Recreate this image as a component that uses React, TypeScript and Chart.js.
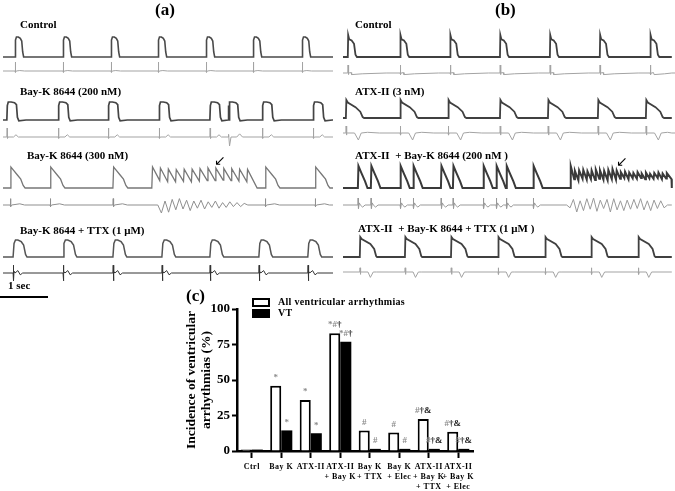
import React, { useEffect, useRef } from "react";
import { Chart, registerables } from "chart.js";
Chart.register(...registerables);

const SERIF = "'Liberation Serif', 'Times New Roman', serif";

// ---------------- (c) bar chart data ----------------
const groupLabels = [
  ["Ctrl"],
  ["Bay K"],
  ["ATX-II"],
  ["ATX-II", "+ Bay K"],
  ["Bay K", "+ TTX"],
  ["Bay K", "+ Elec"],
  ["ATX-II", "+ Bay K", "+ TTX"],
  ["ATX-II", "+ Bay K", "+ Elec"],
];
const allArrhythmias = [1, 46, 36, 83, 14.5, 13, 22.5, 13.5];
const vtIncidence = [1, 14.5, 12.5, 77, 1.5, 1.5, 1.5, 1.5];
const allMarks = ["", "*", "*", "*#†", "#", "#", "#†&", "#†&"];
const vtMarks = ["", "*", "*", "*#†", "#", "#", "#†&", "#†&"];
const yTickValues = [0, 25, 50, 75, 100];
const seriesNames = ["All ventricular arrhythmias", "VT"];
const yTitle = ["Incidence of ventricular", "arrhythmias (%)"];

// ---------------- trace data (times in s, amplitudes normalised) ----------------
// beat templates: [time offset (s), normalised value]
const apCtrlA = [[0, 0], [0.01, 0.85], [0.03, 1.0], [0.07, 1.0], [0.11, 0.93], [0.14, 0.8], [0.16, 0.25], [0.18, 0]];
const apBay200 = [[0, 0], [0.01, 0.8], [0.03, 1.0], [0.09, 1.0], [0.16, 0.96], [0.2, 0.85], [0.22, 0.15], [0.25, -0.05], [0.4, 0]];
const apBay300 = [[0, 0], [0.015, 1.0], [0.05, 0.9], [0.15, 0.62], [0.22, 0.42], [0.27, 0.12], [0.31, 0]];
const apBayTtx = [[0, 0], [0.02, 0.8], [0.05, 1.0], [0.1, 1.0], [0.17, 0.9], [0.22, 0.7], [0.26, 0.15], [0.29, 0]];
const ecgCtrlA = [[0, 0], [0.006, 1], [0.014, -0.15], [0.025, 0], [0.1, 0.05], [0.2, 0]];
const ecgBay200 = [[0, 0], [0.006, 1], [0.014, -0.15], [0.025, 0], [0.14, 0], [0.19, 0.25], [0.24, 0]];
const ecgPvc = [[0, 0], [0.01, 0.3], [0.03, -1.0], [0.06, 0], [0.18, 0], [0.24, 0.35], [0.3, 0]];
const ecgBay300 = [[0, 0], [0.006, 0.8], [0.014, -0.2], [0.03, 0], [0.2, 0.15], [0.3, 0]];
const ecgBayTtx = [[0, 0], [0.006, 1.3], [0.012, -1.3], [0.02, 0.3], [0.04, 0], [0.1, 0.4], [0.15, -0.3], [0.2, 0]];

const apCtrlB = [[0, 0], [0.008, 1], [0.03, 0.8], [0.08, 0.75], [0.13, 0.6], [0.16, 0.1], [0.19, 0]];
const ecgCtrlB = [[0, 0], [0.005, 1], [0.012, -0.2], [0.02, 0], [0.07, 0.05], [0.08, -0.2], [0.3, -0.1], [0.8, 0]];
const apAtx = [[0, 0], [0.01, 1], [0.04, 0.86], [0.2, 0.6], [0.3, 0.35], [0.35, 0.05], [0.38, 0]];
const ecgAtx = [[0, 0], [0.005, 1], [0.012, -0.3], [0.02, 0], [0.18, 0], [0.26, -1.0], [0.32, 0], [0.45, 0.1], [0.7, 0]];
const apEad = [[0, 0], [0.012, 1], [0.07, 0.7], [0.15, 0.3], [0.2, 0]];
const ecgEad = [[0, 0], [0.005, 1], [0.012, -0.5], [0.03, 0.3], [0.05, 0], [0.1, -0.3], [0.15, 0]];
const apAtxTtx = [[0, 0], [0.01, 1], [0.04, 0.9], [0.22, 0.65], [0.3, 0.4], [0.34, 0.05], [0.36, 0]];
const ecgAtxTtx = [[0, 0], [0.005, 0.7], [0.012, -0.4], [0.02, 0], [0.17, 0], [0.22, -0.9], [0.28, 0], [0.35, 0]];

// beat onsets (s)
const ctrlAOnsets = [0.25, 1.25, 2.25, 3.23, 4.23, 5.21, 6.23];
const bay200Onsets = [0.08, 1.15, 2.19, 3.25, 4.31, 4.69, 5.4, 6.46];
const bay200Kinds = ["n", "n", "n", "n", "n", "p", "n", "n"];
const bay300Onsets = [0.15, 0.98, 2.29, 5.46, 6.5];
const bay300VtStart = 3.1;
const bay300VtStep = 0.165;
const bay300VtPeaks = [1.0, 0.95, 0.9, 0.88, 0.9, 0.9, 0.92, 0.95, 0.95, 0.93, 0.92, 0.9, 0.88];
const bay300VtTroughs = [0.35, 0.3, 0.3, 0.32, 0.3, 0.33, 0.35, 0.35, 0.38, 0.35, 0.33, 0.3, 0.0];
const bay300EcgVtStart = 3.3;
const bay300EcgVtStep = 0.075;
const bay300EcgVt = [-1.0, 0.5, -0.9, 0.7, -0.6, 0.8, -0.5, 0.6, -0.7, 0.5, -0.4, 0.6, -0.5, 0.4, -0.3, 0.5, -0.4, 0.3, -0.3, 0.4, -0.2, 0.3, -0.2, 0.2];
const bayTtxOnsets = [0.21, 1.25, 2.29, 3.31, 4.31, 5.33, 6.35];

const ctrlBOnsets = [0.1, 1.19, 2.23, 3.27, 4.31, 5.35, 6.4];
const atxOnsets = [0.06, 1.19, 2.19, 3.27, 4.27, 5.31, 6.31];
const atxBayOnsets = [0.31, 0.58, 1.19, 1.46, 2.04, 2.29, 2.92, 3.19, 3.4, 3.96];
const atxBayVtStart = 4.73;
const atxBayVtStep = 0.087;
const atxBayVtPeaks = [1.0, 0.78, 0.8, 0.82, 0.76, 0.8, 0.84, 0.8, 0.78, 0.82, 0.86, 0.8, 0.72, 0.74, 0.7, 0.68, 0.72, 0.66, 0.7, 0.64, 0.68, 0.7, 0.66, 0.68];
const atxBayVtTroughs = [0.4, 0.35, 0.42, 0.38, 0.4, 0.36, 0.42, 0.38, 0.35, 0.4, 0.38, 0.42, 0.45, 0.4, 0.44, 0.42, 0.45, 0.4, 0.44, 0.42, 0.45, 0.4, 0.43, 0.4];
const atxBayEcgVtStart = 4.73;
const atxBayEcgVtStep = 0.07;
const atxBayEcgVt = [-0.4, 0.8, -1.0, 0.6, -0.8, 0.9, -0.6, 1.0, -0.9, 0.7, -0.5, 0.8, -1.0, 0.9, -0.7, 0.6, -0.8, 0.7, -0.6, 0.8, -0.5, 0.9, -0.7, 0.6, -0.8, 0.7, -0.5, 0.6, -0.4];
const atxTtxOnsets = [0.35, 1.29, 2.25, 3.23, 4.21, 5.17, 6.15];

const traceEndA = 6.875;
const traceEndB = 6.85;
const scaleBarSeconds = 1;

// ---------------- builders ----------------
type Raw = [number, number];
function fromBeats(onsets: number[], shapeFor: (i: number) => number[][]): Raw[] {
  const out: Raw[] = [];
  onsets.forEach((t, i) => shapeFor(i).forEach(([dt, v]) => out.push([t + dt, v])));
  return out;
}
function fromVt(start: number, step: number, peaks: number[], troughs: number[]): Raw[] {
  const out: Raw[] = [[start, 0]];
  peaks.forEach((p, i) => {
    const t = start + i * step;
    out.push([t + 0.015, p]);
    const last = i === peaks.length - 1;
    out.push([t + step * (last ? 1.3 : 1), troughs[i]]);
  });
  return out;
}
function fromSeries(start: number, step: number, vals: number[]): Raw[] {
  const out: Raw[] = [[start - step, 0]];
  vals.forEach((v, i) => out.push([start + i * step, v]));
  out.push([start + vals.length * step, 0]);
  return out;
}
function toTrace(raw: Raw[], base: number, amp: number, end: number) {
  const all: Raw[] = [[0, 0], ...raw, [end, 0]].sort((a, b) => a[0] - b[0]) as Raw[];
  return all.map(([t, v]) => ({ x: t, y: base - amp * v }));
}

function ds(data: any[], color: string, width: number) {
  return { data, borderColor: color, borderWidth: width, pointRadius: 0, tension: 0, fill: false };
}

const colADatasets = () => [
  ds(toTrace(fromBeats(ctrlAOnsets, () => apCtrlA), 57, 20, traceEndA), "#4a4a4a", 1.6),
  ds(toTrace(fromBeats(ctrlAOnsets, () => ecgCtrlA), 71, 9, traceEndA), "#a3a3a3", 1),
  ds(toTrace(fromBeats(bay200Onsets, () => apBay200), 120, 18, traceEndA), "#444", 1.7),
  ds(toTrace(fromBeats(bay200Onsets, (i) => (bay200Kinds[i] === "p" ? ecgPvc : ecgBay200)), 137, 9, traceEndA), "#a3a3a3", 1),
  ds(toTrace([...fromBeats(bay300Onsets, () => apBay300), ...fromVt(bay300VtStart, bay300VtStep, bay300VtPeaks, bay300VtTroughs)], 188, 21, traceEndA), "#777", 1.3),
  ds(toTrace([...fromBeats(bay300Onsets, () => ecgBay300), ...fromSeries(bay300EcgVtStart, bay300EcgVtStep, bay300EcgVt)], 205, 8, traceEndA), "#8f8f8f", 1),
  ds(toTrace(fromBeats(bayTtxOnsets, () => apBayTtx), 257, 17, traceEndA), "#555", 1.5),
  ds(toTrace(fromBeats(bayTtxOnsets, () => ecgBayTtx), 273, 6, traceEndA), "#333", 1),
];

const colBDatasets = () => [
  ds(toTrace(fromBeats(ctrlBOnsets, () => apCtrlB), 57, 22, traceEndB), "#404040", 1.8),
  ds(toTrace(fromBeats(ctrlBOnsets, () => ecgCtrlB), 73, 8, traceEndB), "#a3a3a3", 1),
  ds(toTrace(fromBeats(atxOnsets, () => apAtx), 118, 18, traceEndB), "#404040", 1.8),
  ds(toTrace(fromBeats(atxOnsets, () => ecgAtx), 133, 7, traceEndB), "#a3a3a3", 1),
  ds(toTrace([...fromBeats(atxBayOnsets, () => apEad), ...fromVt(atxBayVtStart, atxBayVtStep, atxBayVtPeaks, atxBayVtTroughs)], 188, 22, traceEndB), "#3a3a3a", 2),
  ds(toTrace([...fromBeats(atxBayOnsets, () => ecgEad), ...fromSeries(atxBayEcgVtStart, atxBayEcgVtStep, atxBayEcgVt)], 205, 7, traceEndB), "#999", 1),
  ds(toTrace(fromBeats(atxTtxOnsets, () => apAtxTtx), 257, 20, traceEndB), "#404040", 1.8),
  ds(toTrace(fromBeats(atxTtxOnsets, () => ecgAtxTtx), 272, 6, traceEndB), "#a3a3a3", 1),
];

const TRACE_H = 300;

function traceConfig(datasets: any[], xmin: number, xmax: number, plugins: any[] = []) {
  return {
    type: "line",
    data: { datasets },
    plugins,
    options: {
      animation: false,
      responsive: false,
      devicePixelRatio: 1,
      parsing: false,
      normalized: true,
      layout: { padding: 0 },
      plugins: { legend: { display: false }, tooltip: { enabled: false } },
      scales: {
        x: { type: "linear", min: xmin, max: xmax, display: false },
        y: { type: "linear", min: 0, max: TRACE_H, reverse: true, display: false },
      },
    },
  } as any;
}

const scaleBarPlugin = {
  id: "scaleBar",
  afterDraw(chart: any) {
    const { ctx, scales } = chart;
    const x0 = scales.x.min;
    const p0 = scales.x.getPixelForValue(x0);
    const p1 = scales.x.getPixelForValue(x0 + scaleBarSeconds);
    const y = scales.y.getPixelForValue(297);
    ctx.save();
    ctx.strokeStyle = "#000";
    ctx.lineWidth = 2;
    ctx.beginPath();
    ctx.moveTo(p0, y);
    ctx.lineTo(p1, y);
    ctx.stroke();
    ctx.restore();
  },
};

const marksPlugin = {
  id: "sigMarks",
  afterDatasetsDraw(chart: any) {
    const ctx = chart.ctx;
    [allMarks, vtMarks].forEach((marks, di) => {
      const meta = chart.getDatasetMeta(di);
      meta.data.forEach((bar: any, i: number) => {
        const s = marks[i];
        if (!s) return;
        ctx.save();
        ctx.font = `bold 9px ${SERIF}`;
        ctx.textBaseline = "middle";
        ctx.textAlign = "left";
        const chars = Array.from(s);
        const widths = chars.map((c) => ctx.measureText(c).width);
        const total = widths.reduce((a, b) => a + b, 0);
        let x = bar.x - total / 2;
        const y = bar.y - 8;
        chars.forEach((c, k) => {
          ctx.fillStyle = c === "†" || c === "&" ? "#222" : "#8c8c8c";
          ctx.fillText(c, x, y);
          x += widths[k];
        });
        ctx.restore();
      });
    });
  },
};

const legendPlugin = {
  id: "boxLegend",
  afterDraw(chart: any) {
    const { ctx, chartArea } = chart;
    const x = chartArea.left + 16;
    let y = chartArea.top - 10;
    ctx.save();
    chart.data.datasets.forEach((d: any) => {
      ctx.fillStyle = d.backgroundColor;
      ctx.fillRect(x, y, 16, 7);
      ctx.strokeStyle = "#000";
      ctx.lineWidth = 2;
      ctx.strokeRect(x, y, 16, 7);
      ctx.fillStyle = "#000";
      ctx.font = `bold 10px ${SERIF}`;
      (ctx as any).letterSpacing = "0.3px";
      ctx.textBaseline = "middle";
      ctx.fillText(d.label, x + 25, y + 3.5);
      y += 11;
    });
    ctx.restore();
  },
};

// slightly letter-spaced x tick labels (as in the figure)
const spacedTicksPlugin = {
  id: "spacedTicks",
  afterLayout(chart: any) {
    const sx = chart.scales.x;
    if (!sx || sx.__spaced) return;
    const orig = sx.drawLabels.bind(sx);
    sx.drawLabels = (area: any) => {
      const ctx = chart.ctx;
      ctx.save();
      (ctx as any).letterSpacing = "0.5px";
      orig(area);
      ctx.restore();
    };
    sx.__spaced = true;
  },
};

function barConfig() {
  return {
    type: "bar",
    data: {
      labels: groupLabels,
      datasets: [
        { label: seriesNames[0], data: allArrhythmias, backgroundColor: "#ffffff", borderColor: "#000", borderWidth: 2, borderSkipped: "bottom" },
        { label: seriesNames[1], data: vtIncidence, backgroundColor: "#000000", borderColor: "#000", borderWidth: 0 },
      ],
    },
    plugins: [marksPlugin, legendPlugin, spacedTicksPlugin],
    options: {
      animation: false,
      responsive: false,
      devicePixelRatio: 1,
      layout: { padding: { top: 29, right: 202, left: 0, bottom: 0 } },
      plugins: { legend: { display: false }, tooltip: { enabled: false } },
      datasets: { bar: { categoryPercentage: 0.75, barPercentage: 1 } },
      scales: {
        x: {
          grid: { display: true, drawOnChartArea: false, drawTicks: true, tickLength: 7, tickWidth: 2, color: "#000", offset: false },
          border: { display: true, width: 2.5, color: "#000" },
          ticks: { autoSkip: false, maxRotation: 0, padding: 4, color: "#000", font: { family: SERIF, size: 8, weight: "bold", lineHeight: 1.25 } },
          afterFit: (s: any) => { s.height = 40; },
        },
        y: {
          min: 0,
          max: 100,
          afterBuildTicks: (s: any) => { s.ticks = yTickValues.map((v) => ({ value: v })); },
          grid: { display: true, drawOnChartArea: false, drawTicks: true, tickLength: 5, tickWidth: 2, color: "#000" },
          border: { display: true, width: 2.5, color: "#000" },
          ticks: { padding: 2, color: "#000", font: { family: SERIF, size: 13, weight: "bold" } },
          title: { display: true, text: yTitle, color: "#000", padding: { top: 4.5, bottom: 0 }, font: { family: SERIF, size: 13.5, weight: "bold", lineHeight: 1.1 } },
          afterFit: (s: any) => { s.width = 57; },
        },
      },
    },
  } as any;
}

const labelStyle = (left: number, top: number, size = 11): React.CSSProperties => ({
  position: "absolute",
  left,
  top,
  font: `bold ${size}px ${SERIF}`,
  color: "#000",
  whiteSpace: "pre",
  lineHeight: 1,
});

export default function App() {
  const aRef = useRef<HTMLCanvasElement>(null);
  const bRef = useRef<HTMLCanvasElement>(null);
  const cRef = useRef<HTMLCanvasElement>(null);

  useEffect(() => {
    const charts: Chart[] = [];
    if (aRef.current) charts.push(new Chart(aRef.current, traceConfig(colADatasets(), -3 / 48, -3 / 48 + 336 / 48, [scaleBarPlugin])));
    if (bRef.current) charts.push(new Chart(bRef.current, traceConfig(colBDatasets(), -5 / 48, -5 / 48 + 337 / 48)));
    if (cRef.current) charts.push(new Chart(cRef.current, barConfig()));
    return () => charts.forEach((c) => c.destroy());
  }, []);

  return (
    <div style={{ position: "absolute", left: 0, top: 0, width: 675, height: 491, background: "#fff", overflow: "hidden" }}>
      <canvas ref={aRef} width={336} height={TRACE_H} style={{ position: "absolute", left: 0, top: 0 }} />
      <canvas ref={bRef} width={337} height={TRACE_H} style={{ position: "absolute", left: 338, top: 0 }} />
      <canvas ref={cRef} width={495} height={211} style={{ position: "absolute", left: 180, top: 280 }} />

      <div style={labelStyle(155, 1, 17)}>(a)</div>
      <div style={labelStyle(495, 1, 17)}>(b)</div>
      <div style={labelStyle(186, 287, 17)}>(c)</div>

      <div style={labelStyle(20, 19)}>Control</div>
      <div style={labelStyle(20, 86)}>Bay-K 8644 (200 nM)</div>
      <div style={labelStyle(27, 150)}>Bay-K 8644 (300 nM)</div>
      <div style={labelStyle(20, 225)}>Bay-K 8644 + TTX (1 μM)</div>
      <div style={labelStyle(8, 280)}>1 sec</div>

      <div style={labelStyle(355, 19)}>Control</div>
      <div style={labelStyle(355, 86)}>ATX-II (3 nM)</div>
      <div style={labelStyle(355, 150)}>{"ATX-II  + Bay-K 8644 (200 nM )"}</div>
      <div style={labelStyle(358, 223)}>{"ATX-II  + Bay-K 8644 + TTX (1 μM )"}</div>

      <div style={{ position: "absolute", left: 214, top: 152, font: `14px 'DejaVu Sans', sans-serif`, color: "#000" }}>↙</div>
      <div style={{ position: "absolute", left: 616, top: 153, font: `14px 'DejaVu Sans', sans-serif`, color: "#000" }}>↙</div>
    </div>
  );
}
